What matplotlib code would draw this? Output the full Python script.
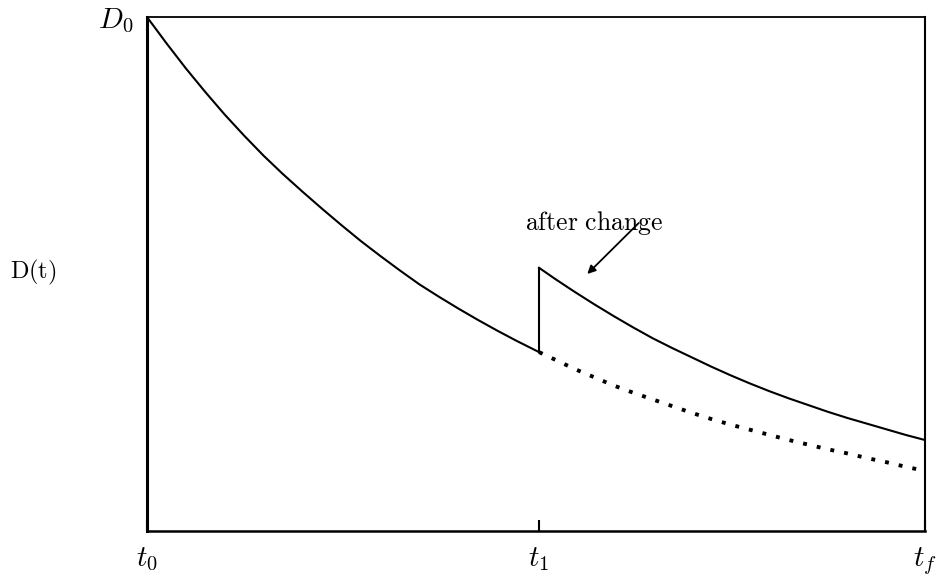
import matplotlib
matplotlib.use("Agg")
import matplotlib.pyplot as plt

plt.rcParams["mathtext.fontset"] = "cm"
plt.rcParams["font.family"] = ["DejaVu Serif"]

# ---------- data (t scaled 0..1, D scaled 0..1) ----------
t1 = 0.504

t_before = [0.0, 0.025, 0.05, 0.075, 0.10, 0.125, 0.15, 0.175, 0.20, 0.225, 0.25,
            0.275, 0.30, 0.325, 0.35, 0.375, 0.40, 0.425, 0.45, 0.475, 0.504]
d_before = [1.0, 0.949, 0.90, 0.854, 0.81, 0.769, 0.73, 0.694, 0.66, 0.627, 0.595,
            0.564, 0.535, 0.507, 0.48, 0.456, 0.433, 0.411, 0.39, 0.370, 0.348]

t_after = [0.504, 0.525, 0.55, 0.575, 0.60, 0.625, 0.65, 0.675, 0.70, 0.725, 0.75,
           0.775, 0.80, 0.825, 0.85, 0.875, 0.90, 0.925, 0.95, 0.975, 1.0]
d_after = [0.512, 0.490, 0.465, 0.441, 0.418, 0.396, 0.375, 0.356, 0.338, 0.320, 0.303,
           0.287, 0.272, 0.258, 0.245, 0.232, 0.220, 0.209, 0.198, 0.187, 0.177]
d_nochange = [0.348, 0.333, 0.315, 0.299, 0.283, 0.269, 0.256, 0.243, 0.230, 0.218, 0.207,
              0.197, 0.187, 0.177, 0.168, 0.159, 0.151, 0.142, 0.134, 0.125, 0.117]

x_ticks = [0.0, t1, 1.0]
x_labels = [r"$t_0$", r"$t_1$", r"$t_f$"]

# ---------- figure ----------
fig = plt.figure(figsize=(9.36, 5.83), dpi=100)
ax = fig.add_axes([0.157, 0.0892, 0.8312, 0.8817])

ax.plot(t_before, d_before, color="black", lw=1.5)
ax.plot([t1, t1], [d_before[-1], d_after[0]], color="black", lw=1.5)
ax.plot(t_after, d_after, color="black", lw=1.5)
ax.plot(t_after, d_nochange, color="black", lw=2.8, linestyle=(0, (1, 2.6)))

# label and arrow
ax.text(0.486, 0.599, r"$\mathrm{after\ change}$", fontsize=18.5, ha="left", va="center")
ax.annotate("", xy=(0.566, 0.500), xytext=(0.632, 0.599),
            arrowprops=dict(arrowstyle="-|>", color="black", lw=1.3,
                            mutation_scale=12, shrinkA=0, shrinkB=0))

ax.set_xlim(0, 1)
ax.set_ylim(0, 1)

ax.set_xticks(x_ticks)
ax.set_xticklabels(x_labels, fontsize=21)
ax.tick_params(axis="x", direction="in", length=8, width=1.5, pad=10)
ax.set_yticks([1.0])
ax.set_yticklabels([r"$D_0$"], fontsize=21)
ax.tick_params(axis="y", length=0, pad=10)

fig.text(0.011, 0.533, r"$\mathrm{D(t)}$", fontsize=17.5, ha="left", va="center")

ax.spines["left"].set_linewidth(2.2)
ax.spines["bottom"].set_linewidth(1.8)
ax.spines["top"].set_linewidth(1.3)
ax.spines["right"].set_linewidth(1.5)

fig.savefig("out.png", dpi=100)
